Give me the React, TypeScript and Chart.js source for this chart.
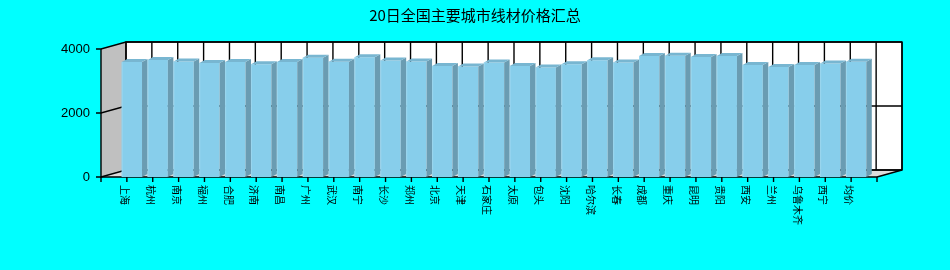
import React, { useEffect, useRef } from 'react';
import { Chart, registerables } from 'chart.js';

Chart.register(...registerables);

const TITLE = '20日全国主要城市线材价格汇总';
const CITIES = [
  '上海', '杭州', '南京', '福州', '合肥', '济南', '南昌', '广州', '武汉', '南宁',
  '长沙', '郑州', '北京', '天津', '石家庄', '太原', '包头', '沈阳', '哈尔滨', '长春',
  '成都', '重庆', '昆明', '贵阳', '西安', '兰州', '乌鲁木齐', '西宁', '均价',
];
const PRICES = [
  3590, 3660, 3610, 3560, 3590, 3520, 3590, 3730, 3600, 3740,
  3640, 3610, 3470, 3450, 3580, 3470, 3420, 3520, 3650, 3580,
  3780, 3790, 3750, 3780, 3500, 3440, 3500, 3550, 3600,
];
const Y_TICKS = [0, 2000, 4000];
const Y_MAX = 4000;

export default function App() {
  const ref = useRef<HTMLCanvasElement | null>(null);

  useEffect(() => {
    const canvas = ref.current;
    if (!canvas) return;
    const labels = ['', ...CITIES, ''];
    const data: (number | null)[] = [null, ...PRICES, null];

    const DX = 25, DY = -7; // wall depth
    const BDX = 5.5, BDY = -3; // bar depth
    const SHIFT = 5;

    const plugin = {
      id: 'frame3d',
      beforeDraw(chart: any) {
        const ctx = chart.ctx;
        ctx.save();
        ctx.fillStyle = '#00FFFF';
        ctx.fillRect(0, 0, chart.width, chart.height);
        ctx.fillStyle = '#000';
        ctx.font = "15px 'Noto Sans CJK SC'";
        ctx.textAlign = 'center';
        ctx.textBaseline = 'middle';
        ctx.fillText(TITLE, chart.width / 2, 15);
        ctx.restore();
      },
      beforeDatasetsDraw(chart: any) {
        const ctx = chart.ctx;
        const xs = chart.scales.x;
        const ys = chart.scales.y;
        const a = chart.chartArea;
        const L = a.left, R = a.right;
        const T = ys.getPixelForValue(Y_MAX);
        const B = ys.getPixelForValue(0);
        ctx.save();
        // back wall
        ctx.fillStyle = '#FFFFFF';
        ctx.fillRect(L + DX, T + DY, R - L, B - T);
        // floor
        ctx.fillStyle = '#DCDCDC';
        ctx.beginPath();
        ctx.moveTo(L, B);
        ctx.lineTo(R, B);
        ctx.lineTo(R + DX, B + DY);
        ctx.lineTo(L + DX, B + DY);
        ctx.closePath();
        ctx.fill();
        // left wall
        ctx.fillStyle = '#C0C0C0';
        ctx.beginPath();
        ctx.moveTo(L, B);
        ctx.lineTo(L, T);
        ctx.lineTo(L + DX, T + DY);
        ctx.lineTo(L + DX, B + DY);
        ctx.closePath();
        ctx.fill();

        ctx.strokeStyle = '#000';
        ctx.lineWidth = 1.4;
        // back wall vertical grid
        for (let i = 0; i < labels.length; i++) {
          const x = xs.getPixelForValue(i) + DX;
          ctx.beginPath();
          ctx.moveTo(x, T + DY);
          ctx.lineTo(x, B + DY);
          ctx.stroke();
        }
        // horizontal grid on back + left wall
        for (const v of Y_TICKS) {
          const y = ys.getPixelForValue(v);
          ctx.beginPath();
          ctx.moveTo(L - 5, y);
          ctx.lineTo(L, y);
          ctx.lineTo(L + DX, y + DY);
          ctx.lineTo(R + DX, y + DY);
          ctx.stroke();
        }
        // back wall border
        ctx.strokeRect(L + DX, T + DY, R - L, B - T);
        // floor right edge
        ctx.beginPath();
        ctx.moveTo(R, B);
        ctx.lineTo(R + DX, B + DY);
        ctx.stroke();
        // front axes
        ctx.beginPath();
        ctx.moveTo(L, T);
        ctx.lineTo(L, B);
        ctx.lineTo(R, B);
        ctx.stroke();
        // x ticks
        for (let i = 0; i < labels.length; i++) {
          const x = xs.getPixelForValue(i);
          ctx.beginPath();
          ctx.moveTo(x, B);
          ctx.lineTo(x, B + 5);
          ctx.stroke();
        }
        // y labels
        ctx.fillStyle = '#000';
        ctx.font = "13px 'Liberation Sans'";
        ctx.textAlign = 'right';
        ctx.textBaseline = 'middle';
        for (const v of Y_TICKS) {
          ctx.fillText(String(v), L - 11, ys.getPixelForValue(v));
        }
        // x labels, rotated clockwise
        ctx.font = "10px 'Noto Sans CJK SC'";
        ctx.textAlign = 'left';
        ctx.textBaseline = 'middle';
        for (let i = 0; i < labels.length; i++) {
          if (!labels[i]) continue;
          const x = xs.getPixelForValue(i) - 2;
          ctx.save();
          ctx.translate(x, B + 8);
          ctx.rotate(Math.PI / 2);
          ctx.fillText(labels[i], 0, 0);
          ctx.restore();
        }
        ctx.restore();
        // shift bars
        ctx.save();
        ctx.translate(SHIFT, 0);
      },
      afterDatasetsDraw(chart: any) {
        const ctx = chart.ctx;
        const meta = chart.getDatasetMeta(0);
        meta.data.forEach((bar: any, i: number) => {
          if (data[i] == null) return;
          const p = bar.getProps(['x', 'y', 'base', 'width'], true);
          const l = p.x - p.width / 2;
          const r = p.x + p.width / 2;
          const top = p.y;
          const bot = p.base;
          // side face
          ctx.fillStyle = '#6A9CB2';
          ctx.beginPath();
          ctx.moveTo(r, bot);
          ctx.lineTo(r, top);
          ctx.lineTo(r + BDX, top + BDY);
          ctx.lineTo(r + BDX, bot + BDY);
          ctx.closePath();
          ctx.fill();
          // top face
          ctx.fillStyle = '#78B6D1';
          ctx.beginPath();
          ctx.moveTo(l, top);
          ctx.lineTo(r, top);
          ctx.lineTo(r + BDX, top + BDY);
          ctx.lineTo(l + BDX, top + BDY);
          ctx.closePath();
          ctx.fill();
          // light left edge of front face
          ctx.fillStyle = '#9AD6EE';
          ctx.fillRect(l, top, 1, bot - top);
        });
        ctx.restore();
      },
    };

    const chart = new Chart(canvas, {
      type: 'bar',
      data: {
        labels,
        datasets: [
          {
            data,
            backgroundColor: '#87CEEB',
            borderWidth: 0,
            categoryPercentage: 1,
            barPercentage: 0.785,
          },
        ],
      },
      options: {
        responsive: false,
        animation: false,
        devicePixelRatio: 1,
        layout: { padding: { left: 101, right: 73, top: 49, bottom: 93 } },
        scales: {
          x: { type: 'category', display: false, offset: false },
          y: { display: false, min: 0, max: Y_MAX },
        },
        plugins: {
          legend: { display: false },
          title: { display: false },
          tooltip: { enabled: false },
        },
        events: [],
      },
      plugins: [plugin],
    });
    return () => chart.destroy();
  }, []);

  return (
    <div style={{ position: 'fixed', left: 0, top: 0, width: 950, height: 270, background: '#00FFFF' }}>
      <canvas ref={ref} width={950} height={270} style={{ display: 'block', width: 950, height: 270 }} />
    </div>
  );
}
